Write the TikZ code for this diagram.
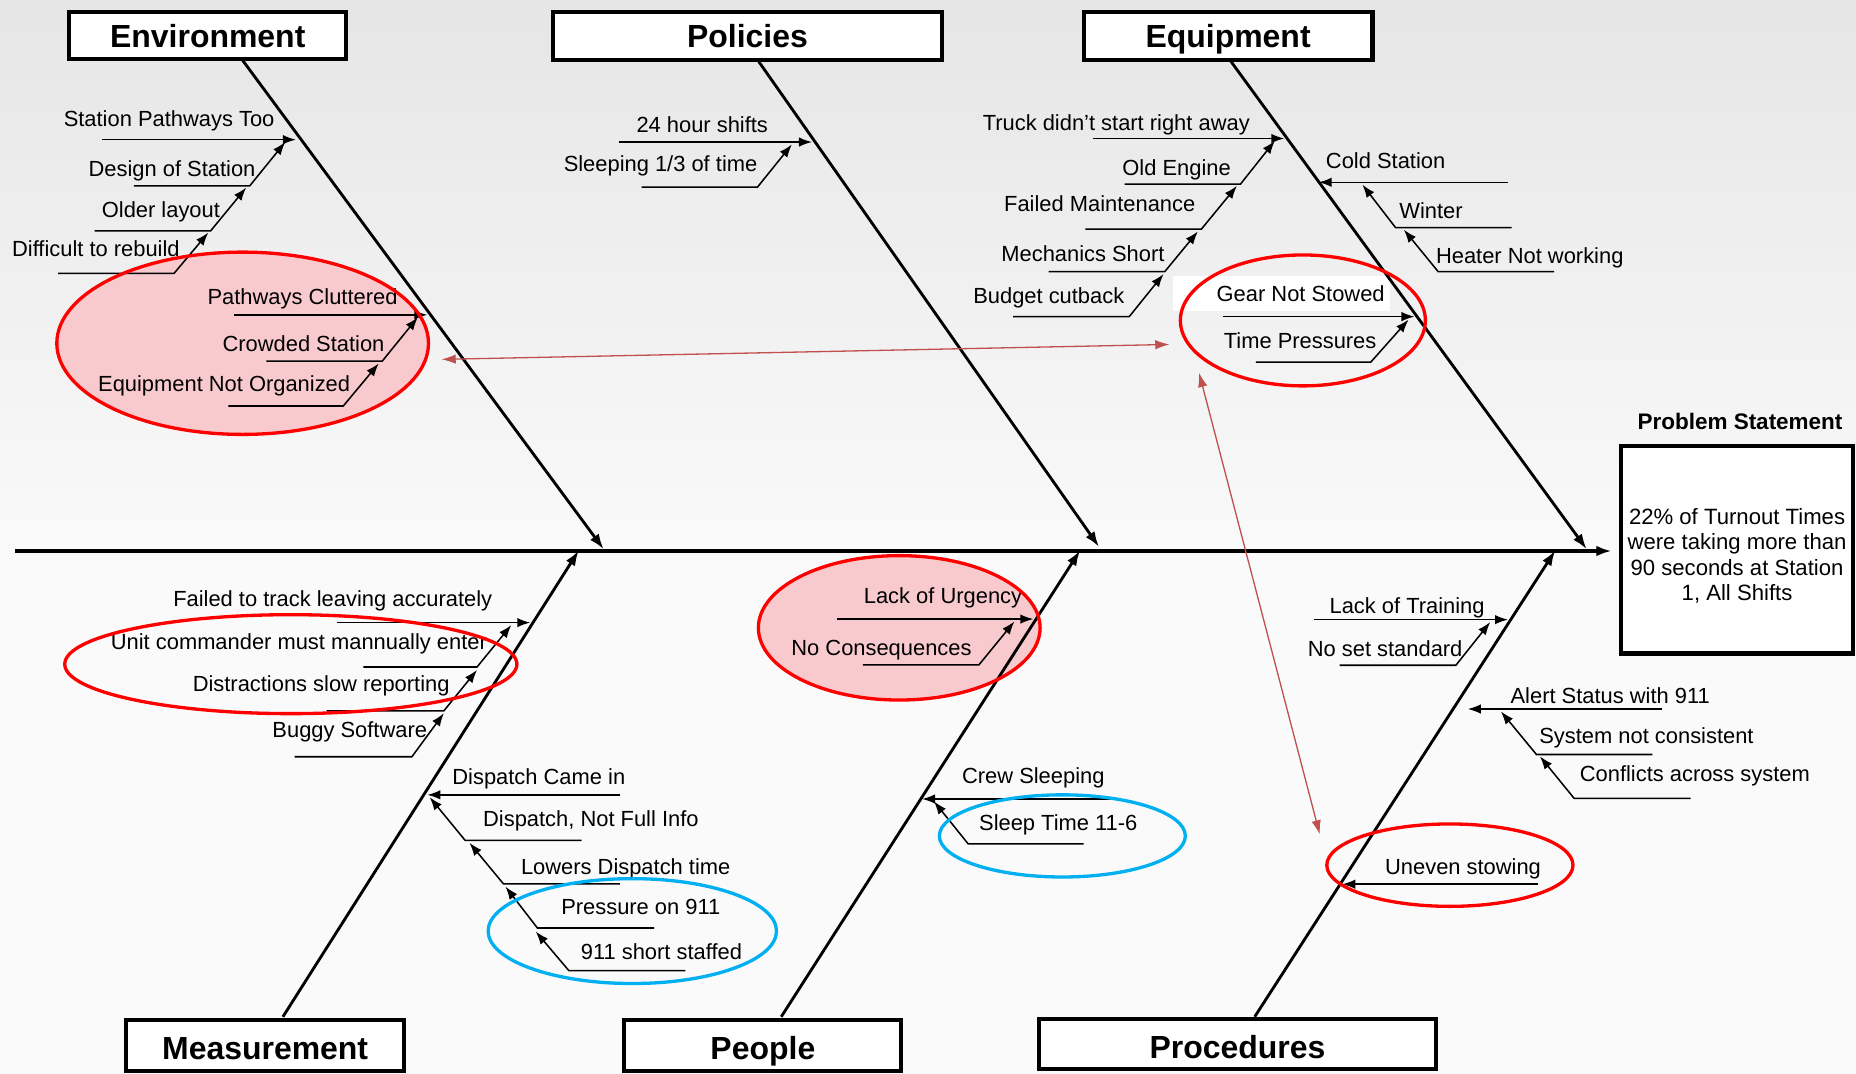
\documentclass[tikz,border=0pt]{standalone}
\usepackage{fontspec}
\setmainfont{Liberation Sans}
\usetikzlibrary{arrows.meta}
\definecolor{redarr}{HTML}{C0504D}
\definecolor{ered}{HTML}{FF0000}
\definecolor{eblue}{HTML}{00B0F0}
\definecolor{epink}{HTML}{F8CACD}
\begin{document}
\begin{tikzpicture}[x=1pt,y=-1pt,
 lbl/.style={font=\fontsize{18.5}{20}\selectfont, inner sep=0pt},
 lr/.style={lbl, anchor=base east},
 ll/.style={lbl, anchor=base west},
 catbox/.style={draw, line width=3.5pt, fill=white, font=\fontsize{27}{30}\selectfont\bfseries, inner sep=0pt, text height=20pt, text depth=0pt},
 catboxb/.style={catbox, text height=24pt},
 spine/.style={line width=2.4pt, -{Latex[length=13pt,width=9pt]}},
 subc/.style={line width=1.3pt, -{Latex[length=11pt,width=8pt]}},
 redell/.style={draw=ered, line width=2.8pt},
 blueell/.style={draw=eblue, line width=2.8pt},
 link/.style={draw=redarr, line width=1.1pt, {Latex[length=12pt,width=8pt]}-{Latex[length=12pt,width=8pt]}}
]
\useasboundingbox (0,0) rectangle (1568,907);
% background
\fill[black!2] (0,0) rectangle (1568,907);
\shade[top color=black!10, bottom color=black!2] (0,0) rectangle (1568,470);

% pink fills
\fill[epink] (205,290) ellipse [x radius=157, y radius=77];
\fill[epink] (759.7,530.4) ellipse [x radius=119, y radius=61];
\fill[white] (991,233) rectangle (1174,263);

% category boxes
\node[catbox, minimum width=234pt, minimum height=39pt] (env) at (175.5,30) {Environment};
\node[catbox, minimum width=328pt, minimum height=40pt] (pol) at (631.5,30.5) {Policies};
\node[catbox, minimum width=244pt, minimum height=40pt] (equ) at (1037.5,30.5) {Equipment};
\node[catboxb, minimum width=235pt, minimum height=43pt] (mea) at (224,883.5) {Measurement};
\node[catboxb, minimum width=234pt, minimum height=43pt] (peo) at (644.5,883.5) {People};
\node[catboxb, minimum width=336pt, minimum height=42pt] (pro) at (1045.5,882) {Procedures};

% problem
\node[draw, line width=3.8pt, fill=white, minimum width=196pt, minimum height=175pt, inner sep=0pt, align=center, font=\fontsize{18.7}{21.5}\selectfont] (prob) at (1467.5,464.5) {\rule{0pt}{24pt}22\% of Turnout Times\\were taking more than\\90 seconds at Station\\1, All Shifts};
\node[font=\fontsize{19}{20}\selectfont\bfseries, anchor=base, inner sep=0pt] (plbl) at (1470,363) {Problem Statement};

% main spine
\coordinate (tail) at (13,465.5);
\draw[spine, line width=2.6pt, shorten >=6pt] (tail) -- (prob.west |- tail);

% branch spines
\coordinate (envS) at (205,51);   \coordinate (envT) at (510,464);
\coordinate (polS) at (641,52);   \coordinate (polT) at (928.5,462);
\coordinate (equS) at (1040,52);  \coordinate (equT) at (1340.5,464);
\coordinate (meaS) at (239,859); \coordinate (meaT) at (489,465);
\coordinate (peoS) at (660,859); \coordinate (peoT) at (912.5,465);
\coordinate (proS) at (1060,859); \coordinate (proT) at (1314,465);
\draw[spine] (envS) -- (envT);
\draw[spine] (polS) -- (polT);
\draw[spine] (equS) -- (equT);
\draw[spine] (meaS) -- (meaT);
\draw[spine] (peoS) -- (peoT);
\draw[spine] (proS) -- (proT);

% Environment
\node[lr] (e1) at (232,107) {Station Pathways Too};
\node[lr] (e2) at (216,149) {Design of Station};
\node[lr] (e3) at (186,184) {Older layout};
\node[lr] (e4) at (152,217) {Difficult to rebuild};
\node[lr] (e5) at (336,257) {Pathways Cluttered};
\node[lr] (e6) at (325,297) {Crowded Station};
\node[lr] (e7) at (296,331) {Equipment Not Organized};
\draw[subc] (86,118) coordinate (e1a) -- (250,118) coordinate (e1t);
\draw[subc] (113,157) coordinate (e2a) -- (211,157) -- (241,120) coordinate (e2t);
\draw[subc] (80,195) coordinate (e3a) -- (178,195) -- (208,158.5) coordinate (e3t);
\draw[subc] (49,231) coordinate (e4a) -- (147,231) -- (176,196.5) coordinate (e4t);
\draw[subc] (198,266) coordinate (e5a) -- (361,266) coordinate (e5t);
\draw[subc] (225,305) coordinate (e6a) -- (323,305) -- (353,268) coordinate (e6t);
\draw[subc] (193,343) coordinate (e7a) -- (290,343) -- (320,307) coordinate (e7t);

% Policies
\node[lr] (p1) at (649,112) {24 hour shifts};
\node[lr] (p2) at (640,145) {Sleeping 1/3 of time};
\draw[subc] (523,120) coordinate (p1a) -- (686,120) coordinate (p1t);
\draw[subc] (542,158) coordinate (p2a) -- (640,158) -- (669,122) coordinate (p2t);

% Equipment
\node[lr] (q1) at (1056,110) {Truck didn't start right away};
\node[lr] (q2) at (1040,148) {Old Engine};
\node[lr] (q3) at (1010,179) {Failed Maintenance};
\node[lr] (q4) at (984,221) {Mechanics Short};
\node[lr] (q5) at (950,256) {Budget cutback};
\node[ll] (q6) at (1120,142) {Cold Station};
\node[ll] (q7) at (1182,184.5) {Winter};
\node[ll] (q8) at (1213,222.5) {Heater Not working};
\node[lr] (q9) at (1170,255) {Gear Not Stowed};
\node[lr] (q10) at (1163,294) {Time Pressures};
\draw[subc] (923,117) coordinate (q1a) -- (1085,117) coordinate (q1t);
\draw[subc] (950,155.5) coordinate (q2a) -- (1048,155.5) -- (1077,119) coordinate (q2t);
\draw[subc] (917,193.5) coordinate (q3a) -- (1015,193.5) -- (1045,157) coordinate (q3t);
\draw[subc] (886,229.5) coordinate (q4a) -- (984,229.5) -- (1012,195.5) coordinate (q4t);
\draw[subc] (856,267.5) coordinate (q5a) -- (954,267.5) -- (983,231.5) coordinate (q5t);
\draw[subc] (1274,154) coordinate (q6a) -- (1114,154) coordinate (q6t);
\draw[subc] (1277,192.3) coordinate (q7a) -- (1179,192.3) -- (1151,156) coordinate (q7t);
\draw[subc] (1313,229.5) coordinate (q8a) -- (1215,229.5) -- (1186,194) coordinate (q8t);
\draw[subc] (1033,267.5) coordinate (q9a) -- (1195,267.5) coordinate (q9t);
\draw[subc] (1061,306) coordinate (q10a) -- (1158,306) -- (1190,270) coordinate (q10t);

% Measurement
\node[lr] (m1) at (416,512.4) {Failed to track leaving accurately};
\node[lr] (m2) at (411.6,549) {Unit commander must mannually enter};
\node[lr] (m3) at (380,584) {Distractions slow reporting};
\node[lr] (m4) at (361,623) {Buggy Software};
\node[ll] (m5) at (382,662.6) {Dispatch Came in};
\node[ll] (m6) at (408,698.4) {Dispatch, Not Full Info};
\node[ll] (m7) at (440,738.7) {Lowers Dispatch time};
\node[ll] (m8) at (474,773) {Pressure on 911};
\node[ll] (m9) at (490.5,811) {911 short staffed};
\draw[subc] (285,526) coordinate (m1a) -- (448,526) coordinate (m1t);
\draw[subc] (307,563.5) coordinate (m2a) -- (403,563.5) -- (432,528) coordinate (m2t);
\draw[subc] (276,600.5) coordinate (m3a) -- (375,600.5) -- (403,566) coordinate (m3t);
\draw[subc] (249,639.3) coordinate (m4a) -- (348,639.3) -- (375,602.5) coordinate (m4t);
\draw[subc] (524,671.5) coordinate (m5a) -- (361,671.5) coordinate (m5t);
\draw[subc] (491.4,710) coordinate (m6a) -- (393,710) -- (363,673.5) coordinate (m6t);
\draw[subc] (523.7,746.8) coordinate (m7a) -- (425.4,746.8) -- (396.6,712) coordinate (m7t);
\draw[subc] (552.6,784) coordinate (m8a) -- (454,784) -- (427,749) coordinate (m8t);
\draw[subc] (579,820) coordinate (m9a) -- (480.6,820) -- (452.6,787) coordinate (m9t);

% People
\node[lr] (h1) at (863.7,509.5) {Lack of Urgency};
\node[lr] (h2) at (821,554) {No Consequences};
\node[ll] (h3) at (812.6,661.7) {Crew Sleeping};
\node[ll] (h4) at (827,702) {Sleep Time 11-6};
\draw[subc] (707.5,523) coordinate (h1a) -- (873,523) coordinate (h1t);
\draw[subc] (729,561.7) coordinate (h2a) -- (827,561.7) -- (857,525) coordinate (h2t);
\draw[subc] (939,675) coordinate (h3a) -- (779,675) coordinate (h3t);
\draw[subc] (915.5,713) coordinate (h4a) -- (818,713) -- (789,677) coordinate (h4t);

% Procedures
\node[lr] (r1) at (1254.4,518) {Lack of Training};
\node[lr] (r2) at (1235.7,554.7) {No set standard};
\node[ll] (r3) at (1276,594.6) {Alert Status with 911};
\node[ll] (r4) at (1300.3,628) {System not consistent};
\node[ll] (r5) at (1334.5,660.6) {Conflicts across system};
\node[ll] (r6) at (1170,738.5) {Uneven stowing};
\draw[subc] (1110,523.5) coordinate (r1a) -- (1274,523.5) coordinate (r1t);
\draw[subc] (1131.7,562) coordinate (r2a) -- (1230,562) -- (1259,525.5) coordinate (r2t);
\draw[subc] (1404.4,599) coordinate (r3a) -- (1240,599) coordinate (r3t);
\draw[subc] (1396,637.4) coordinate (r4a) -- (1298,637.4) -- (1268,601) coordinate (r4t);
\draw[subc] (1428.3,674.4) coordinate (r5a) -- (1329.8,674.4) -- (1301,639) coordinate (r5t);
\draw[subc] (1299,747) coordinate (r6a) -- (1134,747) coordinate (r6t);

% highlight ellipses
\draw[redell] (205,290) ellipse [x radius=157, y radius=77];
\draw[redell] (1100.7,270.7) ellipse [x radius=103.5, y radius=55.3];
\draw[redell] (245.7,561.1) ellipse [x radius=191, y radius=41.8];
\draw[blueell] (534.2,786.6) ellipse [x radius=121.8, y radius=44.3];
\draw[redell] (759.7,530.4) ellipse [x radius=119, y radius=61];
\draw[blueell] (897.5,706.2) ellipse [x radius=103.9, y radius=34.7];
\draw[redell] (1224.9,730.9) ellipse [x radius=104, y radius=34.8];

% links
\coordinate (l1a) at (373,303.6); \coordinate (l1b) at (988,291);
\coordinate (l2a) at (1013,315); \coordinate (l2b) at (1115,705);
\draw[link] (l1a) -- (l1b);
\draw[link] (l2a) -- (l2b);
\end{tikzpicture}
\end{document}
